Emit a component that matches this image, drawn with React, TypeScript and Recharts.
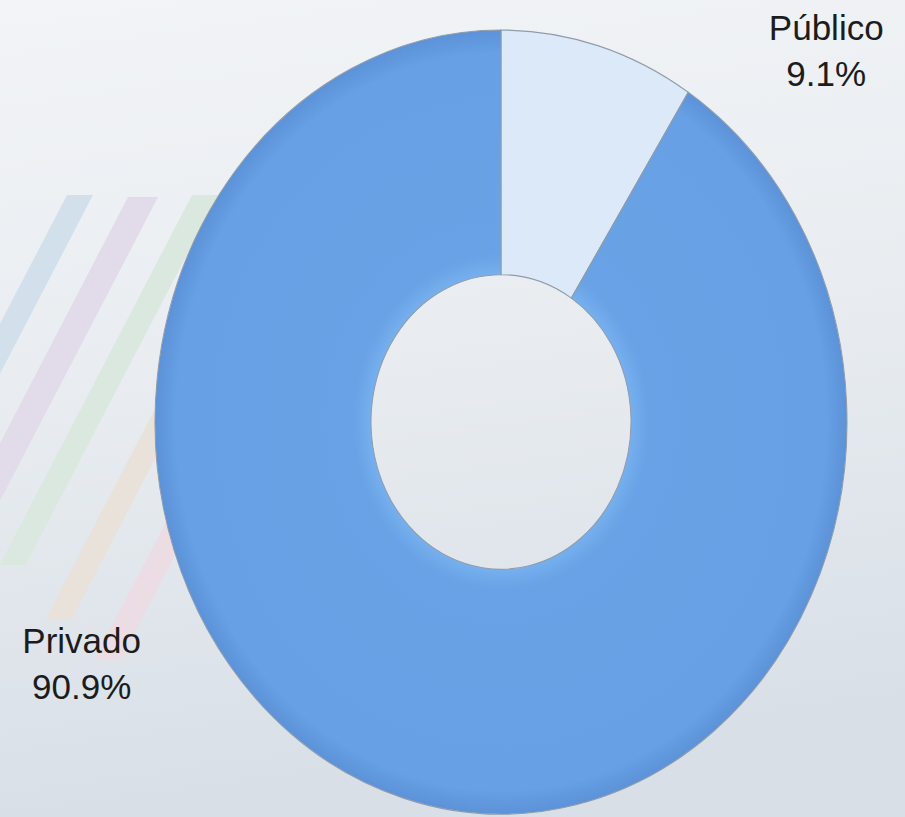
import React from "react";
import { PieChart, Pie, Cell, Sector } from "recharts";

const categories = ["Público", "Privado"];
const values = [9.1, 90.9];
const colors = ["#dce9f9", "#67a0e4"];

const data = categories.map((name, i) => ({ name, value: values[i] }));

const W = 905;
const H = 817;
const CX = 501;
const CY = 422;
const R_OUT = 346;
const R_IN = 130;
const K = 1.133; // vertical stretch of the donut

const stripes = [
  { x: 67, y0: 195, y1: 380, w: 26, c: "#d2e0ec" },
  { x: 128, y0: 197, y1: 500, w: 30, c: "#e2dbea" },
  { x: 192, y0: 195, y1: 565, w: 26, c: "#dbe8df" },
  { x: 196, y0: 330, y1: 620, w: 26, c: "#e8e2da" },
  { x: 188, y0: 480, y1: 660, w: 26, c: "#ecdce4" },
];

const stretched = (props: any) => {
  const t = `translate(0 ${props.cy * (1 - K)}) scale(1 ${K})`;
  return (
    <g transform={t}>
      <Sector {...props} />
    </g>
  );
};

const renderLabel = (props: any) => {
  const { cx, cy, outerRadius, index, name, percent } = props;
  const ry = outerRadius * K;
  let x: number;
  let y: number;
  if (index === 0) {
    x = cx + outerRadius * 0.94;
    y = cy - ry * 0.975;
  } else {
    x = cx - outerRadius * 1.212;
    y = cy + ry * 0.589;
  }
  const pct = (percent * 100).toFixed(1) + "%";
  return (
    <text
      x={x}
      y={y}
      textAnchor="middle"
      fill="#1c1c1c"
      fontSize={35}
      fontFamily="'Liberation Sans', Arial, sans-serif"
    >
      <tspan x={x} dy={0}>{name}</tspan>
      <tspan x={x} dy={46}>{pct}</tspan>
    </text>
  );
};

export default function App() {
  return (
    <div style={{ position: "relative", width: W, height: H, overflow: "hidden" }}>
      <style>{`body{margin:0}`}</style>
      <svg width={W} height={H} style={{ position: "absolute", left: 0, top: 0 }}>
        <defs>
          <linearGradient id="bg" x1="0" y1="0" x2="0.15" y2="1">
            <stop offset="0" stopColor="#f2f4f7" />
            <stop offset="0.5" stopColor="#e8ecf0" />
            <stop offset="1" stopColor="#d8dfe7" />
          </linearGradient>
        </defs>
        <rect x={0} y={0} width={W} height={H} fill="url(#bg)" />
        {stripes.map((s, i) => {
          const dx = 0.52 * (s.y1 - s.y0);
          const pts = `${s.x},${s.y0} ${s.x + s.w},${s.y0} ${s.x + s.w - dx},${s.y1} ${s.x - dx},${s.y1}`;
          return <polygon key={i} points={pts} fill={s.c} />;
        })}
      </svg>
      <div style={{ position: "absolute", left: 0, top: 0 }}>
        <PieChart width={W} height={H} margin={{ top: 0, right: 0, bottom: 0, left: 0 }}>
          <defs>
            <radialGradient id="privGrad" cx="0.5" cy="0.5" r="0.5">
              <stop offset="0.37" stopColor="#78b1ef" />
              <stop offset="0.43" stopColor="#69a2e5" />
              <stop offset="0.94" stopColor="#67a0e4" />
              <stop offset="1" stopColor="#5c92d8" />
            </radialGradient>
          </defs>
          <Pie
            data={data}
            dataKey="value"
            nameKey="name"
            cx={CX}
            cy={CY}
            innerRadius={R_IN}
            outerRadius={R_OUT}
            startAngle={90}
            endAngle={-270}
            stroke="#8f9cab"
            strokeWidth={1}
            isAnimationActive={false}
            label={renderLabel}
            labelLine={false}
            shape={stretched}
            activeShape={stretched}
            inactiveShape={stretched}
          >
            {data.map((d, i) => (
              <Cell key={d.name} fill={i === 1 ? "url(#privGrad)" : colors[i]} />
            ))}
          </Pie>
        </PieChart>
      </div>
    </div>
  );
}
